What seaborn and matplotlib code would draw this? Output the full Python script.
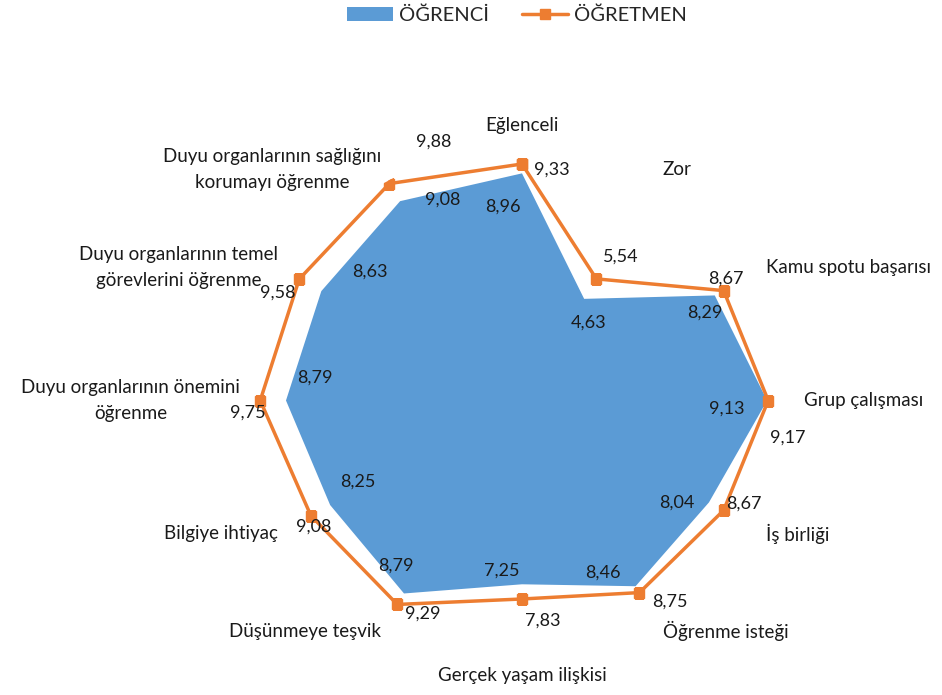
import numpy as np
import matplotlib
matplotlib.use("Agg")
import matplotlib.pyplot as plt
import seaborn as sns

categories = [
    "Eğlenceli", "Zor", "Kamu spotu başarısı", "Grup çalışması", "İş birliği",
    "Öğrenme isteği", "Gerçek yaşam ilişkisi", "Düşünmeye teşvik", "Bilgiye ihtiyaç",
    "Duyu organlarının önemini\nöğrenme", "Duyu organlarının temel\ngörevlerini öğrenme",
    "Duyu organlarının sağlığını\nkorumayı öğrenme",
]
ogrenci = [8.96, 4.63, 8.29, 9.13, 8.04, 8.46, 7.25, 8.79, 8.25, 8.79, 8.63, 9.08]
ogretmen = [9.33, 5.54, 8.67, 9.17, 8.67, 8.75, 7.83, 9.29, 9.08, 9.75, 9.58, 9.88]
series_names = ["ÖĞRENCİ", "ÖĞRETMEN"]

# label offsets in screen pixels (dx right, dy down)
stud_off = [(-19, 33), (4, 24), (-10, 17), (-40, 8), (-32, 0), (-33, -14),
            (-20, -14), (-8, -28), (28, -23), (29, -23), (49, -19), (43, -2)]
teach_off = [(30, 6), (24, -22), (2, -12), (20, 37), (20, -7), (30, 9),
             (21, 22), (25, 9), (3, 11), (-12, 12), (-21, 14), (44, -42)]

sns.set_theme(style="white")
plt.rcParams["font.family"] = ["Lato", "DejaVu Sans"]

BLUE = "#5B9BD5"
ORANGE = "#ED7D31"
TXT = "#1a1a1a"

fig = plt.figure(figsize=(9.42, 6.95), dpi=100)
ax = fig.add_axes([253.5 / 942, 41 / 695, 537 / 942, 507 / 695], projection="polar")
ax.set_aspect("auto")
ax.set_theta_offset(np.pi / 2)
ax.set_theta_direction(-1)

n = len(categories)
theta = np.linspace(0, 2 * np.pi, n, endpoint=False)
tc = np.append(theta, theta[0])

ax.fill(tc, np.append(ogrenci, ogrenci[0]), color=BLUE, linewidth=0, label=series_names[0], zorder=2)
ax.plot(tc, np.append(ogretmen, ogretmen[0]), color=ORANGE, linewidth=2.5,
        marker="s", markersize=7.5, label=series_names[1], zorder=3)

ax.set_ylim(0, 10)
ax.grid(False)
ax.set_xticks([])
ax.set_yticks([])
ax.spines["polar"].set_visible(False)
ax.patch.set_alpha(0)

renderer = fig.canvas.get_renderer()
LH = 26  # line spacing in pixels
CAT_FS = 13.5

# category labels
for t, lab in zip(theta, categories):
    ang = np.pi / 2 - t
    c, s = np.cos(ang), np.sin(ang)
    if abs(c) < 0.01:
        ha = "center"
        va = "bottom" if s > 0 else "top"
    else:
        ha = "left" if c > 0 else "right"
        va = "center"
    lines = lab.split("\n")
    if len(lines) == 1:
        ax.text(t, 10.5, lab, ha=ha, va=va, fontsize=CAT_FS, color=TXT)
    else:
        t1 = ax.annotate(lines[0], (t, 10.5), xytext=(0, LH / 2), textcoords="offset pixels",
                         ha=ha, va="center", fontsize=CAT_FS, color=TXT,
                         annotation_clip=False)
        w1 = t1.get_window_extent(renderer).width
        cx = -w1 / 2 if ha == "right" else (w1 / 2 if ha == "left" else 0)
        ax.annotate(lines[1], (t, 10.5), xytext=(cx, -LH / 2), textcoords="offset pixels",
                    ha="center", va="center", fontsize=CAT_FS, color=TXT,
                    annotation_clip=False)

def fmt(v):
    return f"{v:.2f}".replace(".", ",")

for t, v, (dx, dy) in zip(theta, ogrenci, stud_off):
    ax.annotate(fmt(v), (t, v), xytext=(dx, -dy), textcoords="offset pixels",
                ha="center", va="center", fontsize=13, color=TXT, zorder=5)
for t, v, (dx, dy) in zip(theta, ogretmen, teach_off):
    ax.annotate(fmt(v), (t, v), xytext=(dx, -dy), textcoords="offset pixels",
                ha="center", va="center", fontsize=13, color=TXT, zorder=5)

fig.legend(loc="center", bbox_to_anchor=(517 / 942, 1 - 15 / 695), ncol=2,
           frameon=False, fontsize=14.5, handlelength=2.3, columnspacing=1.6,
           handletextpad=0.3)

fig.savefig("out.png", dpi=100)
